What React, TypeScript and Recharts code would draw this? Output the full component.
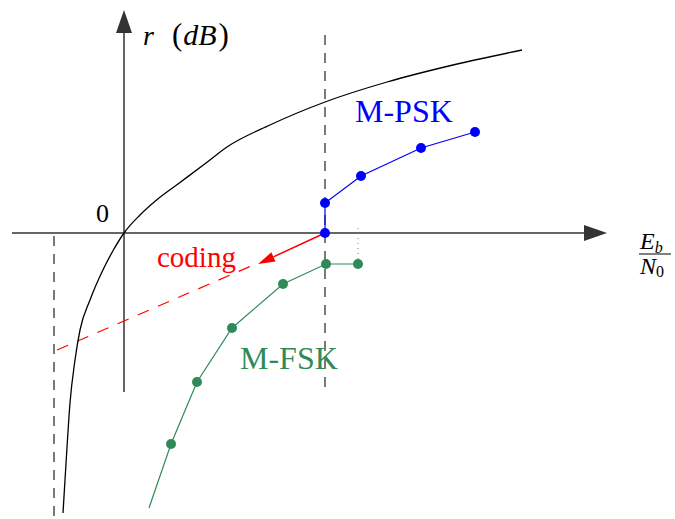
import React from 'react';
import { ComposedChart, XAxis, YAxis, Line, ReferenceLine, ReferenceDot } from 'recharts';

// Shannon bound r vs Eb/N0 (schematic units)
const shannonBound = [
  { x: -3.05, y: -14.0 },
  { x: -2.88, y: -11.2 },
  { x: -2.7, y: -8.5 },
  { x: -2.45, y: -6.35 },
  { x: -2.2, y: -4.85 },
  { x: -1.7, y: -3.35 },
  { x: -1.03, y: -1.8 },
  { x: -0.53, y: -0.85 },
  { x: 0, y: 0 },
  { x: 0.8, y: 0.9 },
  { x: 1.63, y: 1.65 },
  { x: 2.63, y: 2.4 },
  { x: 4.1, y: 3.5 },
  { x: 5.15, y: 4.3 },
  { x: 7.3, y: 5.4 },
  { x: 10.05, y: 6.55 },
  { x: 13.15, y: 7.55 },
  { x: 16.45, y: 8.4 },
  { x: 19.9, y: 9.15 },
];

const mpsk = [
  { x: 10.05, y: 0 },
  { x: 10.05, y: 1.5 },
  { x: 11.85, y: 2.85 },
  { x: 14.85, y: 4.25 },
  { x: 17.55, y: 5.05 },
];

// first entry is the line's tail, drawn without a marker
const mfsk = [
  { x: 1.25, y: -13.75 },
  { x: 2.35, y: -10.55 },
  { x: 3.65, y: -7.45 },
  { x: 5.4, y: -4.75 },
  { x: 7.95, y: -2.55 },
  { x: 10.1, y: -1.55 },
  { x: 11.7, y: -1.55 },
];

const shannonLimitX = -3.5;
const refEbN0 = 10.05;

const BLUE = '#0000ff';
const GREEN = '#2e8b57';
const RED = '#ff0000';
const AXIS = '#333333';
const FONT = '"Liberation Serif", "DejaVu Serif", serif';

const arrow = (color: string, head: number, width: number, sw: number) => (props: any) => {
  const { x1, y1, x2, y2 } = props;
  const dx = x2 - x1;
  const dy = y2 - y1;
  const len = Math.hypot(dx, dy) || 1;
  const ux = dx / len;
  const uy = dy / len;
  const bx = x2 - ux * head;
  const by = y2 - uy * head;
  const px = (-uy * width) / 2;
  const py = (ux * width) / 2;
  return (
    <g>
      <line x1={x1} y1={y1} x2={bx} y2={by} stroke={color} strokeWidth={sw} />
      <polygon points={`${x2},${y2} ${bx + px},${by + py} ${bx - px},${by - py}`} fill={color} />
    </g>
  );
};

const textAt = (content: React.ReactNode, opts: any) => (props: any) => (
  <text x={props.cx} y={props.cy} fontFamily={FONT} {...opts}>
    {content}
  </text>
);

const fractionLabel = (props: any) => {
  const { cx, cy } = props;
  return (
    <g fontFamily={FONT} fill="#000">
      <text x={cx} y={cy - 5} fontSize={24} fontStyle="italic">
        E<tspan fontSize={16} dy={4}>b</tspan>
      </text>
      <line x1={cx - 1} y1={cy} x2={cx + 31} y2={cy} stroke="#000" strokeWidth={1} />
      <text x={cx} y={cy + 20} fontSize={24} fontStyle="italic">
        N<tspan fontSize={16} fontStyle="normal" dy={3}>0</tspan>
      </text>
    </g>
  );
};

const fskDot = (props: any) => {
  const { cx, cy, index } = props;
  if (index === 0) return <g key={`fsk-${index}`} />;
  return <circle key={`fsk-${index}`} cx={cx} cy={cy} r={5} fill={GREEN} />;
};

const App: React.FC = () => {
  return (
    <div style={{ width: 675, height: 519 }}>
      <style>{'body{margin:0}'}</style>
      <ComposedChart width={675} height={519} margin={{ top: 0, right: 0, bottom: 0, left: 0 }}>
        <XAxis dataKey="x" type="number" domain={[-6.2, 27.55]} hide allowDataOverflow />
        <YAxis type="number" domain={[-14.3, 11.65]} hide allowDataOverflow />

        {/* axes */}
        <ReferenceLine segment={[{ x: -5.6, y: 0 }, { x: 24.15, y: 0 }]} shape={arrow(AXIS, 23, 16, 1.5)} ifOverflow="visible" />
        <ReferenceLine segment={[{ x: 0, y: -7.95 }, { x: 0, y: 11.15 }]} shape={arrow(AXIS, 23, 16, 1.5)} ifOverflow="visible" />

        {/* guide lines */}
        <ReferenceLine segment={[{ x: shannonLimitX, y: -0.15 }, { x: shannonLimitX, y: -14.3 }]} stroke={AXIS} strokeWidth={1.3} strokeDasharray="10 8" ifOverflow="visible" />
        <ReferenceLine segment={[{ x: refEbN0, y: 9.9 }, { x: refEbN0, y: -7.95 }]} stroke={AXIS} strokeWidth={1.3} strokeDasharray="10 8" ifOverflow="visible" />
        <ReferenceLine segment={[{ x: 11.7, y: 0.25 }, { x: 11.7, y: -1.45 }]} stroke="#777" strokeWidth={1} strokeDasharray="1 4" ifOverflow="visible" />

        {/* coding gain */}
        <ReferenceLine segment={[{ x: -3.35, y: -5.85 }, { x: 6.7, y: -1.5 }]} stroke={RED} strokeWidth={1.2} strokeDasharray="12 10" ifOverflow="visible" />
        <ReferenceLine segment={[{ x: 10.05, y: 0 }, { x: 6.7, y: -1.55 }]} shape={arrow(RED, 17, 10, 1.5)} ifOverflow="visible" />

        <Line data={shannonBound} dataKey="y" type="monotone" stroke="#000" strokeWidth={1.3} dot={false} activeDot={false} isAnimationActive={false} />
        <Line data={mfsk} dataKey="y" type="linear" stroke={GREEN} strokeWidth={1.2} dot={fskDot} activeDot={false} isAnimationActive={false} />
        <Line data={mpsk} dataKey="y" type="linear" stroke={BLUE} strokeWidth={1.2} dot={{ r: 5, fill: BLUE, stroke: 'none' }} activeDot={false} isAnimationActive={false} />

        {/* labels */}
        <ReferenceDot x={0.95} y={9.4} r={0} ifOverflow="visible" shape={textAt(
          <>
            <tspan fontStyle="italic">r</tspan>
            <tspan dx={18} fontSize={31}>(</tspan>
            <tspan fontStyle="italic" fontSize={30} dx={1}>dB</tspan>
            <tspan fontSize={31} dx={2}>)</tspan>
          </>, { fontSize: 28, fill: '#000' })} />
        <ReferenceDot x={-1.4} y={0.55} r={0} ifOverflow="visible" shape={textAt('0', { fontSize: 26, fill: '#000' })} />
        <ReferenceDot x={1.65} y={-1.7} r={0} ifOverflow="visible" shape={textAt('coding', { fontSize: 29, fill: RED })} />
        <ReferenceDot x={11.55} y={5.55} r={0} ifOverflow="visible" shape={textAt('M-PSK', { fontSize: 32, fill: BLUE })} />
        <ReferenceDot x={5.8} y={-6.8} r={0} ifOverflow="visible" shape={textAt('M-FSK', { fontSize: 32, fill: GREEN })} />
        <ReferenceDot x={25.8} y={-1.05} r={0} ifOverflow="visible" shape={fractionLabel} />
      </ComposedChart>
    </div>
  );
};

export default App;
